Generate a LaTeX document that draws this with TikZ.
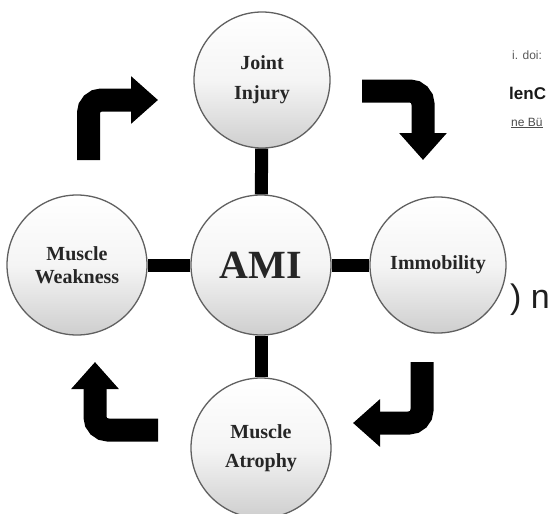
\documentclass[tikz,border=0pt]{standalone}
\usepackage{fontspec}
\setmainfont{Liberation Serif}
\newfontfamily\fragfont{Liberation Sans}
\usetikzlibrary{arrows.meta}
\tikzset{
  bubble/.style={circle, minimum size=#1, inner sep=0pt, draw=gray!75!black, line width=1.3pt,
    top color=white, bottom color=gray!38, middle color=gray!8, align=center,
    font=\bfseries\fontsize{20}{29}\selectfont, text=black!85},
  conn/.style={line width=13pt, black},
  bigarrow/.style={line width=23pt, black, rounded corners=13pt,
    -{Triangle[width=46pt,length=27pt]}},
  frag/.style={anchor=west, inner sep=0pt, font=\fragfont}
}
\begin{document}
\begin{tikzpicture}[x=1pt,y=-1pt]
\useasboundingbox[fill=white] (0,0) rectangle (552,514);
\node[bubble=140pt, font=\bfseries\fontsize{40}{44}\selectfont] (ami) at (261,265) {AMI};
\node[bubble=136pt] (joint) at (262,80) {Joint\\[1pt]Injury};
\node[bubble=136pt] (immo) at (438,265) {Immobility};
\node[bubble=140pt, font=\bfseries\fontsize{20}{23}\selectfont] (weak) at (77,265) {Muscle\\Weakness};
\node[bubble=140pt] (atro) at (261,448) {Muscle\\Atrophy};
\draw[conn] (ami) -- (joint);
\draw[conn] (ami) -- (immo);
\draw[conn] (ami) -- (weak);
\draw[conn] (ami) -- (atro);
% curved arrows
\coordinate (a1s) at (88.5,160); \coordinate (a1c) at (88.5,100); \coordinate (a1e) at (158,100);
\coordinate (a2s) at (362,91); \coordinate (a2c) at (423,91); \coordinate (a2e) at (423,160);
\coordinate (a3s) at (422,362); \coordinate (a3c) at (422,423); \coordinate (a3e) at (353,423);
\coordinate (a4s) at (158,430); \coordinate (a4c) at (95,430); \coordinate (a4e) at (95,362);
\draw[bigarrow] (a1s) -- (a1c) -- (a1e);
\draw[bigarrow] (a2s) -- (a2c) -- (a2e);
\draw[bigarrow] (a3s) -- (a3c) -- (a3e);
\draw[bigarrow] (a4s) -- (a4c) -- (a4e);
% text fragments at the right edge
\node[frag, font=\fragfont\fontsize{12}{14}\selectfont, text=black!65] (f1) at (512,55) {i. doi:};
\node[frag, font=\fragfont\bfseries\fontsize{17}{19}\selectfont, text=black!90] (f2) at (509,93) {lenC};
\node[frag, font=\fragfont\fontsize{12}{14}\selectfont, text=black!70] (f3) at (511,123) {\underline{ne Bü}};
\node[frag, font=\fragfont\fontsize{34}{38}\selectfont, text=black!88] (f4) at (510,300) {) n};
\end{tikzpicture}
\end{document}
